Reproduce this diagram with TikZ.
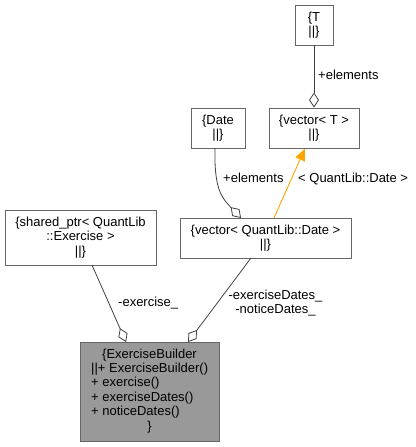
\documentclass[tikz,border=0pt]{standalone}
\usepackage{fontspec}
\setmainfont{Liberation Sans}
\usetikzlibrary{arrows.meta}
\definecolor{boxline}{HTML}{666666}
\definecolor{edgecol}{HTML}{404040}
\definecolor{ebfill}{HTML}{999999}
\definecolor{inh}{HTML}{FFA500}
\begin{document}
\begin{tikzpicture}[x=1pt,y=-1pt,
  font=\fontsize{13}{14.3}\selectfont,
  box/.style={draw=boxline, line width=0.9pt, fill=white, inner sep=0pt, align=center},
  txt/.style={inner sep=0pt, anchor=west},
  agg/.style={draw=edgecol, line width=0.8pt, -{Diamond[fill=white,length=15pt,width=10pt]}},
  inherit/.style={draw=inh, line width=0.9pt, -{Triangle[fill=inh,length=12pt,width=10pt]}},
  lbl/.style={inner sep=0pt, anchor=west}]
\useasboundingbox (0,0) rectangle (415,447);
\node[box, minimum width=38pt, minimum height=40pt] (t) at (314,25) {\{T\\||\}};
\node[box, minimum width=90pt, minimum height=40pt] (vt) at (314,128) {\{vector< T >\\||\}};
\node[box, minimum width=54pt, minimum height=40pt] (date) at (218,128) {\{Date\\||\}};
\node[box, minimum width=171pt, minimum height=40pt] (vd) at (265.5,238) {\{vector< QuantLib::Date >\\||\}};
\node[box, minimum width=151pt, minimum height=55pt] (sp) at (80.5,237.5) {\{shared\_ptr< QuantLib\\::Exercise >\\||\}};
\node[box, fill=ebfill, minimum width=139pt, minimum height=99pt] (eb) at (149.5,391.5) {};
\node[inner sep=0pt] (eb1) at (149.5,355) {\{ExerciseBuilder};
\node[txt] (eb2) at (91,369) {||+ ExerciseBuilder()};
\node[txt] (eb3) at (91,383.5) {+ exercise()};
\node[txt] (eb4) at (91,398) {+ exerciseDates()};
\node[txt] (eb5) at (91,412) {+ noticeDates()};
\node[inner sep=0pt] (eb6) at (149.5,427) {\}};
% edges
\draw[agg] (t.south) -- (vt.north);
\node[lbl] (l1) at (318,75) {+elements};
\coordinate (ds) at (215,148);
\coordinate (de) at (241,218);
\draw[agg] (ds) .. controls (214,190) and (222,198) .. (de);
\node[lbl] (l2) at (223,178) {+elements};
\coordinate (is) at (274,218);
\coordinate (ie) at (305,148.5);
\draw[inherit] (is) -- (ie);
\node[lbl] (l3) at (298,179) {< QuantLib::Date >};
\coordinate (ss) at (92,265);
\coordinate (se) at (126,342);
\draw[agg] (ss) -- (se);
\node[lbl] (l4) at (118,303) {-exercise\_};
\coordinate (vs) at (251,258);
\coordinate (ve) at (188,342);
\draw[agg] (vs) -- (ve);
\node[inner sep=0pt, align=center] (l5) at (275.5,303) {-exerciseDates\_\\-noticeDates\_};
\end{tikzpicture}
\end{document}
